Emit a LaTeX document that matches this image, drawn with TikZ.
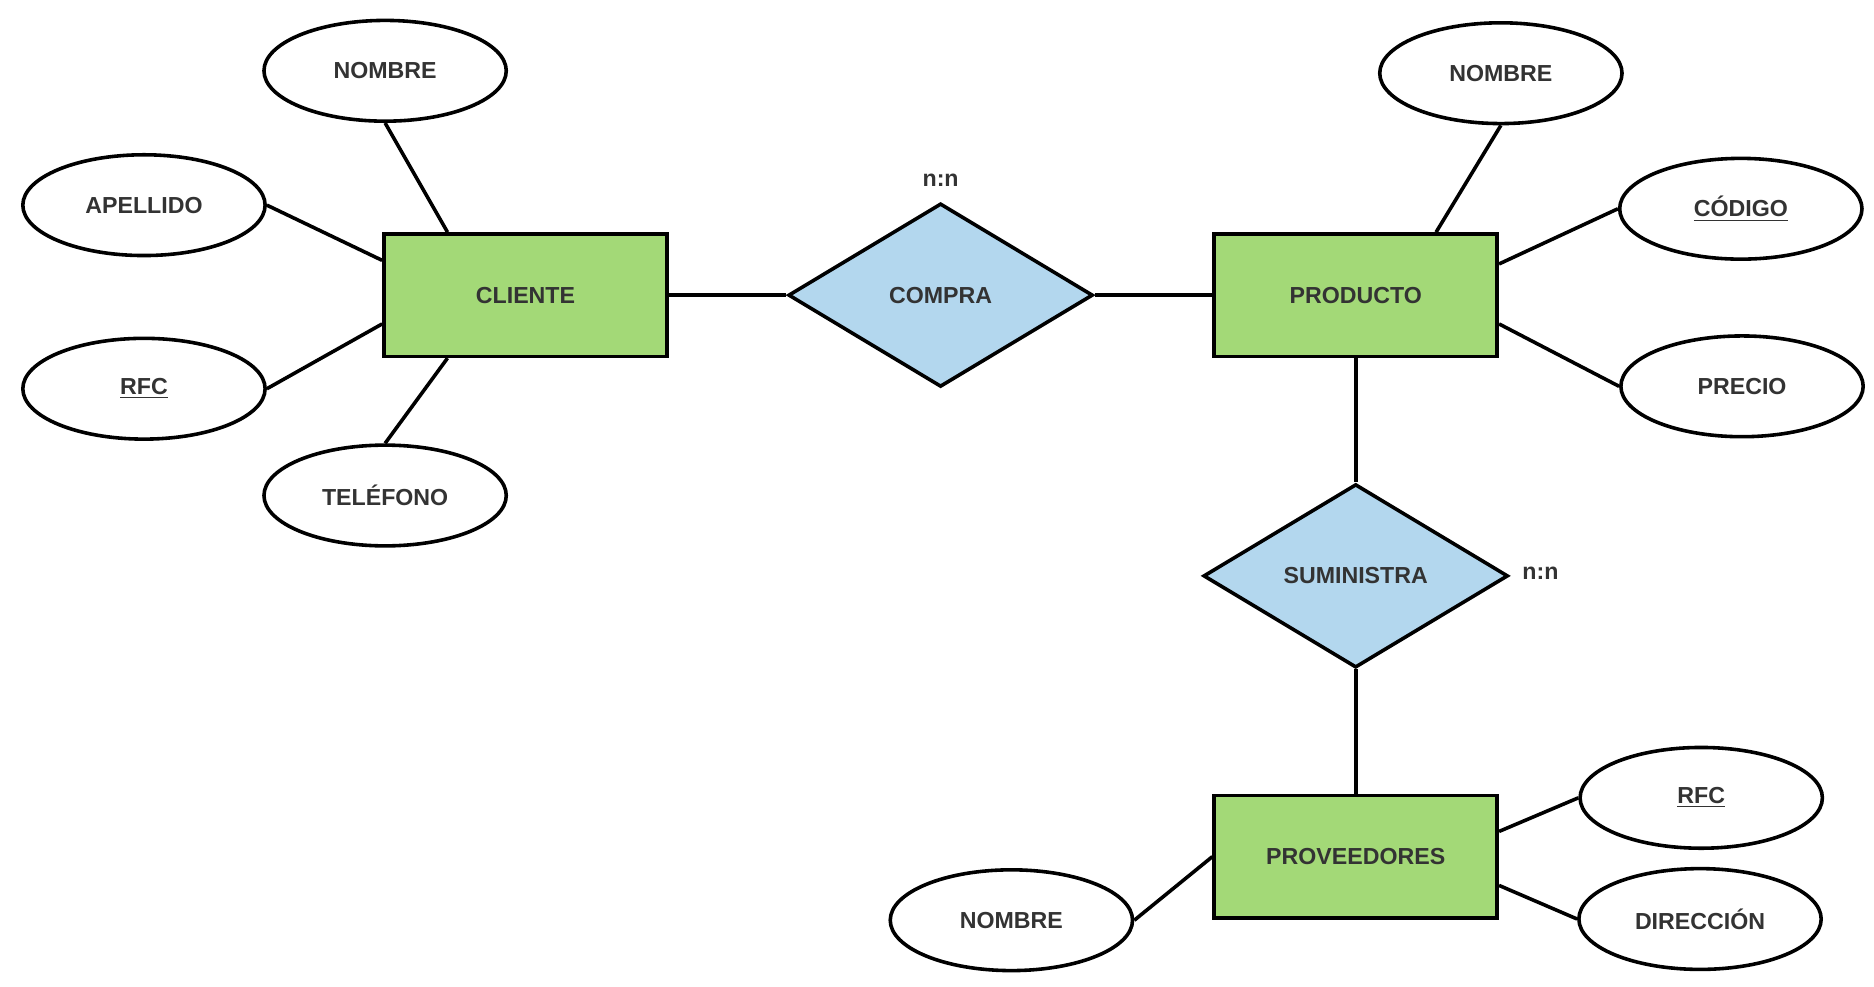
\documentclass[tikz,border=0pt]{standalone}
\usepackage{fontspec}
\setmainfont{Liberation Sans}
\usepackage{tikz}
\usetikzlibrary{shapes.geometric}
\definecolor{entgreen}{HTML}{A3D977}
\definecolor{relblue}{HTML}{B3D7EE}
\definecolor{txtgray}{HTML}{333333}
\tikzset{
  every node/.style={font=\fontsize{11}{13}\selectfont\bfseries, text=txtgray},
  entity/.style={draw, line width=1.7pt, fill=entgreen, minimum width=4.72cm, minimum height=2.04cm},
  relation/.style={draw, line width=1.7pt, fill=relblue, diamond, inner sep=0pt, minimum width=5.08cm, minimum height=3.06cm},
  attrib/.style={draw, line width=1.7pt, fill=white, ellipse, minimum width=4.04cm, minimum height=1.68cm},
  link/.style={line width=1.7pt}
}
\begin{document}
\begin{tikzpicture}[x=0.02cm, y=-0.02cm]
\useasboundingbox (0,0) rectangle (1562,822);
\node[entity] (cli) at (438,246) {CLIENTE};
\node[entity] (prod) at (1130,246) {PRODUCTO};
\node[entity] (prov) at (1130,714) {PROVEEDORES};
\node[relation] (compra) at (784,246) {COMPRA};
\node[relation] (sumin) at (1130,480) {SUMINISTRA};
\node (nn1) at (784,150) {n:n};
\node (nn2) at (1284,478) {n:n};

\node[attrib] (cnom) at (321,59) {NOMBRE};
\node[attrib] (cape) at (120,171) {APELLIDO};
\node[attrib] (crfc) at (120,324) {\underline{RFC}};
\node[attrib] (ctel) at (321,413) {TELÉFONO};
\node[attrib] (pnom) at (1251,61) {NOMBRE};
\node[attrib] (pcod) at (1451,174) {\underline{CÓDIGO}};
\node[attrib] (ppre) at (1452,322) {PRECIO};
\node[attrib] (vrfc) at (1418,665) {\underline{RFC}};
\node[attrib] (vdir) at (1417,766) {DIRECCIÓN};
\node[attrib] (vnom) at (843,767) {NOMBRE};

\draw[link] (cli) -- (compra);
\draw[link] (compra) -- (prod);
\draw[link] (prod) -- (sumin);
\draw[link] (sumin) -- (prov);
\draw[link] (cnom.south) -- ([xshift=-1.3cm]cli.north);
\draw[link] (cape.east) -- ([yshift=0.58cm]cli.west);
\draw[link] (crfc.east) -- ([yshift=-0.48cm]cli.west);
\draw[link] (ctel.north) -- ([xshift=-1.3cm]cli.south);
\draw[link] (pnom.south) -- ([xshift=1.34cm]prod.north);
\draw[link] (pcod.west) -- ([yshift=0.52cm]prod.east);
\draw[link] (ppre.west) -- ([yshift=-0.48cm]prod.east);
\draw[link] (vrfc.west) -- ([yshift=0.42cm]prov.east);
\draw[link] (vdir.west) -- ([yshift=-0.48cm]prov.east);
\draw[link] (vnom.east) -- (prov.west);
\end{tikzpicture}
\end{document}
